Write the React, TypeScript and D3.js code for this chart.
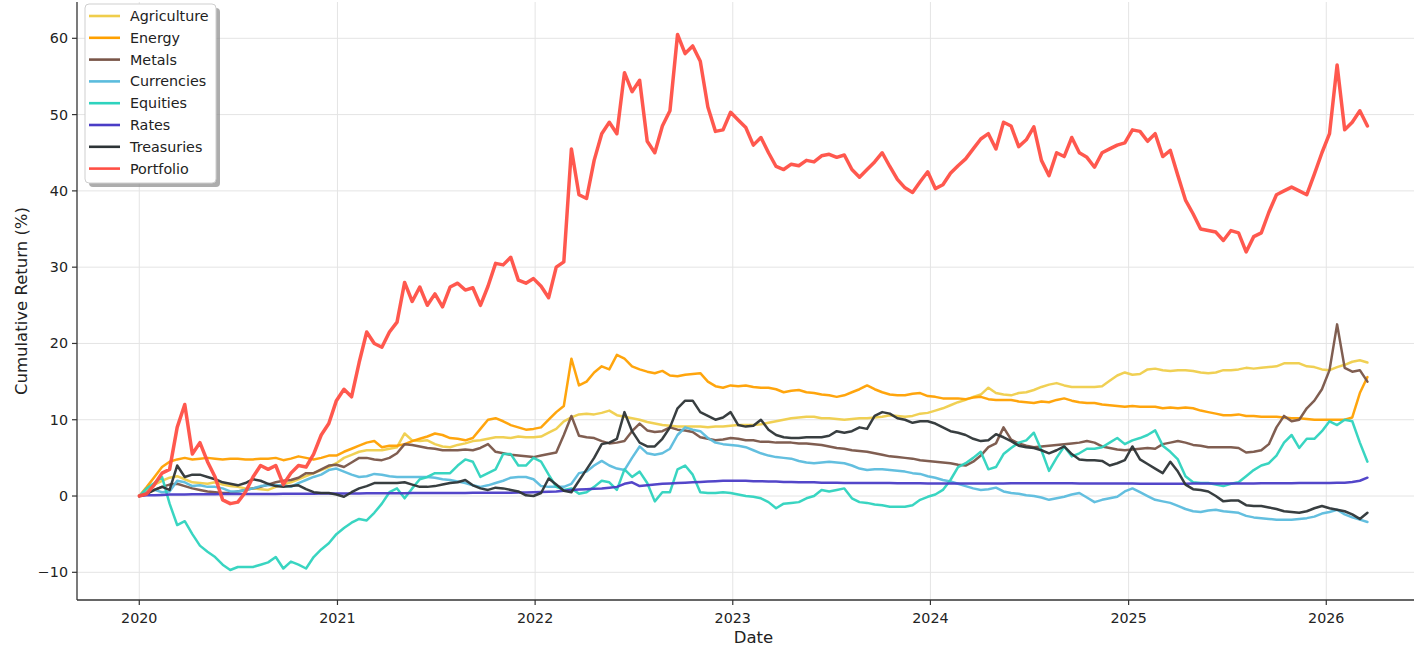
import React from "react";
import * as d3 from "d3";

const START = new Date(2020, 0, 1);
const STEP_DAYS = 14;

const seriesNames = ["Agriculture", "Energy", "Metals", "Currencies", "Equities", "Rates", "Treasuries", "Portfolio"];
const seriesColors = ["#EFCD4B", "#FFA000", "#795548", "#5BBCDD", "#2ED3BE", "#4A3CC6", "#2D3436", "#FF4F44"];

const xTickYears = [2020, 2021, 2022, 2023, 2024, 2025, 2026];
const yTickValues = [-10, 0, 10, 20, 30, 40, 50, 60];

const agriculture = [
  0, 0.8, 1.5, 2.0, 2.4, 2.6, 2.2, 1.8, 1.7, 1.6,
  1.8, 1.5, 1.3, 1.2, 1.0, 1.0, 0.9, 0.8, 1.2, 1.5,
  1.8, 2.2, 2.6, 3.0, 3.4, 3.8, 4.3, 5.0, 5.4, 5.8,
  6.0, 6.0, 6.0, 6.2, 6.4, 8.2, 7.3, 7.2, 7.3, 6.8,
  6.5, 6.4, 6.7, 6.9, 7.2, 7.3, 7.5, 7.7, 7.7, 7.6,
  7.8, 7.7, 7.7, 7.8, 8.3, 8.8, 9.8, 10.3, 10.7, 10.8,
  10.7, 10.9, 11.2, 10.6, 10.4, 10.2, 10.0, 9.7, 9.5, 9.3,
  9.2, 9.1, 9.1, 9.1, 9.1, 9.0, 9.1, 9.1, 9.2, 9.3,
  9.3, 9.3, 9.4, 9.6, 9.8, 10.0, 10.2, 10.3, 10.4, 10.4,
  10.2, 10.2, 10.1, 10.0, 10.1, 10.2, 10.2, 10.3, 10.4, 10.6,
  10.5, 10.4, 10.5, 10.8, 10.9, 11.2, 11.5, 11.9, 12.3, 12.6,
  13.0, 13.3, 14.2, 13.5, 13.3, 13.2, 13.5, 13.6, 13.9, 14.3,
  14.6, 14.8, 14.5, 14.3, 14.3, 14.3, 14.3, 14.4, 15.1, 15.8,
  16.2, 15.9, 16.0, 16.6, 16.7, 16.5, 16.4, 16.5, 16.5, 16.4,
  16.2, 16.1, 16.2, 16.5, 16.5, 16.6, 16.8, 16.7, 16.8, 16.9,
  17.0, 17.4, 17.4, 17.4, 17.0, 16.9, 16.6, 16.5, 16.9, 17.2,
  17.6, 17.8, 17.5,
];

const energy = [
  0, 1.2, 2.5, 3.8, 4.5, 4.8, 5.0, 4.8, 4.9, 5.0,
  4.9, 4.8, 4.9, 4.9, 4.8, 4.8, 4.9, 4.9, 5.0, 4.7,
  4.9, 5.2, 5.0, 4.8, 5.0, 5.3, 5.3, 5.8, 6.2, 6.6,
  7.0, 7.2, 6.4, 6.6, 6.6, 6.8, 7.2, 7.5, 7.8, 8.2,
  8.0, 7.6, 7.5, 7.3, 7.6, 8.8, 10.0, 10.2, 9.8, 9.3,
  9.0, 8.7, 8.8, 9.0, 10.0, 11.0, 11.8, 18.0, 14.5, 15.0,
  16.2, 17.0, 16.6, 18.5, 18.0, 17.0, 16.6, 16.3, 16.1, 16.4,
  15.8, 15.7, 15.9, 16.0, 16.1, 15.0, 14.4, 14.2, 14.5, 14.4,
  14.5, 14.3, 14.2, 14.2, 14.0, 13.6, 13.8, 13.9, 13.6, 13.5,
  13.3, 13.2, 13.0, 13.2, 13.6, 14.0, 14.5, 14.0, 13.6, 13.3,
  13.2, 13.2, 13.4, 13.5, 13.1, 13.0, 12.8, 12.8, 12.8, 12.7,
  12.9, 13.0, 12.7, 12.6, 12.6, 12.6, 12.4, 12.3, 12.2, 12.4,
  12.3, 12.6, 12.8, 12.5, 12.3, 12.2, 12.2, 12.0, 11.9, 11.8,
  11.7, 11.8, 11.7, 11.7, 11.7, 11.5, 11.6, 11.5, 11.6, 11.5,
  11.2, 11.0, 10.8, 10.6, 10.6, 10.7, 10.5, 10.5, 10.4, 10.4,
  10.4, 10.3, 10.2, 10.2, 10.1, 10.0, 10.0, 10.0, 10.0, 10.0,
  10.3, 13.5, 15.6,
];

const metals = [
  0, 0.3, 0.8, 1.2, 1.5, 1.6, 1.3, 1.0, 0.8, 0.6,
  0.5, 0.4, 0.4, 0.6, 0.8, 1.0, 1.2, 1.5, 1.8, 2.0,
  2.1, 2.4, 3.0, 3.0, 3.5, 4.0, 4.1, 3.8, 4.4, 5.0,
  5.0, 4.8, 4.7, 5.0, 5.6, 6.8, 6.7, 6.5, 6.3, 6.2,
  6.0, 6.0, 6.0, 6.1, 6.0, 6.3, 6.8, 5.8, 5.6, 5.4,
  5.3, 5.2, 5.1, 5.3, 5.5, 5.7, 8.0, 10.5, 7.9, 7.7,
  7.6, 7.2, 6.9, 7.0, 7.2, 8.5, 9.5, 8.6, 8.4, 8.5,
  9.0, 8.7, 8.6, 8.4, 7.7, 7.5, 7.3, 7.4, 7.6, 7.5,
  7.3, 7.3, 7.1, 7.1, 7.0, 7.0, 7.0, 6.9, 6.9, 6.8,
  6.7, 6.5, 6.3, 6.2, 6.0, 5.9, 5.8, 5.6, 5.4, 5.2,
  5.1, 5.0, 4.9, 4.7, 4.6, 4.5, 4.4, 4.3, 4.1, 4.0,
  4.5, 5.3, 6.4, 6.9, 9.0, 7.4, 6.9, 6.6, 6.4, 6.5,
  6.6, 6.7, 6.8, 6.9, 7.0, 7.2, 7.0, 6.5, 6.3, 6.1,
  6.0, 6.1, 6.2, 6.3, 6.2, 6.8, 7.0, 7.2, 7.0, 6.7,
  6.6, 6.4, 6.4, 6.4, 6.4, 6.3, 5.7, 5.8, 6.0, 6.8,
  9.0, 10.5, 9.8, 10.0, 11.5, 12.5, 14.0, 16.5, 22.5, 16.8,
  16.3, 16.5, 15.0,
];

const currencies = [
  0, 0.5, 0.8, 0.5, 0.6, 2.0, 1.8, 1.3, 1.4, 1.2,
  1.2, 1.0, 0.6, 0.6, 0.8, 1.0, 1.3, 1.4, 1.4, 1.4,
  1.2, 1.7, 2.1, 2.5, 2.8, 3.4, 3.6, 3.2, 2.8, 2.5,
  2.6, 2.9, 2.8, 2.6, 2.5, 2.5, 2.5, 2.5, 2.5, 2.4,
  2.2, 2.1, 1.9, 1.7, 1.4, 1.2, 1.4, 1.7, 2.0, 2.4,
  2.5, 2.5, 2.2, 1.3, 1.2, 1.2, 1.2, 1.6, 3.0, 3.2,
  4.0, 4.6, 4.0, 3.6, 3.4, 5.0, 6.5, 5.6, 5.4, 5.6,
  6.2, 8.0, 9.0, 8.7, 8.5, 7.6, 7.0, 6.8, 6.7, 6.6,
  6.4, 6.0, 5.6, 5.3, 5.1, 5.0, 4.9, 4.6, 4.4, 4.3,
  4.4, 4.5, 4.4, 4.3, 4.0, 3.6, 3.4, 3.5, 3.5, 3.4,
  3.3, 3.2, 3.0, 2.9, 2.6, 2.4, 2.1, 1.9, 1.6, 1.3,
  1.0, 0.8, 0.9, 1.1, 0.6, 0.4, 0.3, 0.1, 0.0, -0.2,
  -0.5, -0.3, -0.1, 0.2, 0.4, -0.2, -0.8, -0.5, -0.3, -0.1,
  0.6, 1.0, 0.5, 0.0, -0.5, -0.7, -0.9, -1.3, -1.7, -2.0,
  -2.1, -1.9, -1.8, -2.0, -2.1, -2.2, -2.6, -2.8, -2.9, -3.0,
  -3.1, -3.1, -3.1, -3.0, -2.9, -2.7, -2.3, -2.1, -1.8, -2.4,
  -2.8, -3.1, -3.4,
];

const equities = [
  0, 1.0, 1.7, 2.5, -1.0, -3.8, -3.3, -5.0, -6.5, -7.3,
  -8.0, -9.0, -9.7, -9.3, -9.3, -9.3, -9.0, -8.7, -8.0, -9.5,
  -8.6, -9.0, -9.5, -8.0, -7.0, -6.2, -5.0, -4.2, -3.5, -3.0,
  -3.2, -2.2, -1.0, 0.5, 1.0, -0.3, 1.0, 2.2, 2.5, 3.0,
  3.0, 3.0, 4.0, 4.8, 4.5, 2.5, 3.0, 3.5, 5.5, 5.5,
  4.0, 4.0, 5.0, 4.5, 2.8, 1.2, 0.8, 1.0, 0.3, 0.5,
  1.2, 2.0, 1.8, 0.8, 3.5, 2.5, 3.2, 1.7, -0.7, 0.5,
  0.5, 3.5, 4.0, 2.8, 0.5, 0.4, 0.4, 0.5, 0.4, 0.2,
  0.0, -0.1, -0.3, -0.8, -1.6, -1.0, -0.9, -0.8, -0.3, 0.0,
  0.8, 0.6, 0.8, 1.0, -0.3, -0.8, -0.9, -1.1, -1.2, -1.4,
  -1.4, -1.4, -1.2, -0.5, -0.1, 0.2, 0.8, 2.1, 3.8, 4.3,
  5.0, 5.8, 3.5, 3.8, 5.5, 6.3, 7.0, 7.3, 8.3, 6.0,
  3.3, 5.0, 6.5, 5.2, 5.6, 6.2, 6.2, 6.4, 7.0, 7.6,
  6.8, 7.3, 7.6, 8.0, 8.6, 6.6, 5.8, 4.8, 2.6, 1.8,
  1.7, 1.7, 1.5, 1.3, 1.6, 1.8, 2.6, 3.4, 4.0, 4.3,
  5.3, 7.0, 8.0, 6.3, 7.5, 7.5, 8.5, 9.8, 9.3, 10.0,
  9.8, 7.0, 4.5,
];

const rates = [
  0, 0.1, 0.1, 0.15, 0.2, 0.2, 0.2, 0.22, 0.22, 0.24,
  0.24, 0.25, 0.25, 0.26, 0.26, 0.27, 0.27, 0.28, 0.28, 0.29,
  0.3, 0.3, 0.31, 0.31, 0.32, 0.32, 0.33, 0.33, 0.34, 0.34,
  0.35, 0.35, 0.36, 0.36, 0.37, 0.37, 0.38, 0.38, 0.39, 0.39,
  0.4, 0.4, 0.41, 0.41, 0.42, 0.42, 0.43, 0.43, 0.44, 0.44,
  0.45, 0.47, 0.5, 0.52, 0.55, 0.6, 0.7, 0.8, 0.85, 0.9,
  0.95, 1.0, 1.1, 1.2, 1.6, 1.8, 1.3, 1.4, 1.5, 1.6,
  1.65, 1.7, 1.75, 1.8, 1.85, 1.9, 1.95, 2.0, 2.0, 2.0,
  2.0, 1.95, 1.95, 1.9, 1.9, 1.85, 1.85, 1.8, 1.8, 1.8,
  1.75, 1.75, 1.75, 1.7, 1.7, 1.7, 1.7, 1.7, 1.7, 1.7,
  1.68, 1.68, 1.66, 1.66, 1.65, 1.65, 1.65, 1.64, 1.64, 1.64,
  1.64, 1.64, 1.65, 1.65, 1.65, 1.66, 1.66, 1.66, 1.66, 1.66,
  1.66, 1.66, 1.66, 1.66, 1.65, 1.65, 1.65, 1.65, 1.64, 1.64,
  1.63, 1.63, 1.62, 1.62, 1.62, 1.62, 1.62, 1.62, 1.62, 1.63,
  1.63, 1.63, 1.64, 1.64, 1.64, 1.65, 1.65, 1.65, 1.66, 1.67,
  1.68, 1.68, 1.69, 1.7, 1.7, 1.7, 1.71, 1.72, 1.73, 1.75,
  1.85, 2.0, 2.4,
];

const treasuries = [
  0, 0.3, 0.8, 1.2, 0.8, 4.0, 2.5, 2.8, 2.8, 2.5,
  2.2, 1.8, 1.6, 1.4, 1.7, 2.2, 2.0, 1.6, 1.3, 1.2,
  1.3, 1.4, 0.9, 0.5, 0.4, 0.4, 0.2, -0.1, 0.5, 1.0,
  1.3, 1.7, 1.7, 1.7, 1.7, 1.8, 1.5, 1.2, 1.2, 1.3,
  1.5, 1.7, 1.8, 2.1, 1.4, 1.0, 0.8, 1.1, 1.0, 0.8,
  0.6, 0.1, 0.0, 0.4, 2.3, 1.5, 0.7, 0.5, 2.0, 3.5,
  5.0, 6.8, 7.0, 7.5, 11.0, 8.5, 7.0, 6.5, 6.5, 7.5,
  9.0, 11.5, 12.5, 12.5, 11.0, 10.5, 10.0, 10.3, 11.0, 9.3,
  9.1, 9.2, 10.0, 8.7, 8.0, 7.7, 7.6, 7.6, 7.7, 7.7,
  7.7, 7.9, 8.5, 8.3, 8.5, 9.0, 8.8, 10.5, 11.0, 10.8,
  10.2, 10.0, 9.6, 9.8, 9.8, 9.5, 9.0, 8.5, 8.3, 8.0,
  7.5, 7.2, 7.3, 8.1, 7.7, 7.2, 6.6, 6.4, 6.3, 6.0,
  5.6, 6.0, 6.5, 5.5, 4.8, 4.7, 4.7, 4.6, 4.0, 4.3,
  4.7, 6.5, 4.8, 4.2, 3.6, 3.0, 4.5, 3.2, 1.5, 0.9,
  0.8, 0.6, 0.0, -0.7, -0.6, -0.6, -1.2, -1.3, -1.3, -1.5,
  -1.7, -2.0, -2.1, -2.2, -2.0, -1.6, -1.3, -1.6, -1.8, -2.0,
  -2.4, -3.0, -2.2,
];

const portfolio = [
  0, 0.3, 1.5, 3.0, 3.5, 9.0, 12.0, 5.5, 7.0, 4.5,
  2.5, -0.5, -1.0, -0.8, 0.5, 2.5, 4.0, 3.5, 4.0, 1.5,
  3.0, 4.0, 3.8, 5.5, 8.0, 9.5, 12.5, 14.0, 13.0, 17.5,
  21.5, 20.0, 19.5, 21.5, 22.8, 28.0, 25.5, 27.4, 25.0, 26.5,
  24.8, 27.4, 27.9, 27.0, 27.3, 25.0, 27.5, 30.5, 30.3, 31.3,
  28.3, 27.9, 28.5, 27.5, 26.0, 30.0, 30.7, 45.5, 39.5, 39.0,
  44.0, 47.5, 49.0, 47.5, 55.5, 53.0, 54.5, 46.5, 45.0, 48.5,
  50.5, 60.5, 58.0, 59.0, 57.0, 51.0, 47.8, 48.0, 50.3, 49.3,
  48.3, 46.0, 47.0, 45.0, 43.2, 42.8, 43.5, 43.3, 44.0, 43.8,
  44.6, 44.8, 44.4, 44.7, 42.8, 41.8, 42.8, 43.8, 45.0, 43.2,
  41.5, 40.4, 39.8, 41.2, 42.5, 40.3, 40.8, 42.3, 43.3, 44.2,
  45.5, 46.8, 47.5, 45.5, 49.0, 48.5, 45.8, 46.7, 48.4, 44.0,
  42.0, 45.0, 44.5, 47.0, 45.0, 44.4, 43.1, 45.0, 45.5, 46.0,
  46.3, 48.0, 47.8, 46.5, 47.5, 44.5, 45.3, 42.0, 38.8, 37.0,
  35.0, 34.8, 34.6, 33.5, 34.8, 34.5, 32.0, 34.0, 34.5, 37.2,
  39.5, 40.0, 40.5, 40.0, 39.5, 42.2, 45.0, 47.5, 56.5, 48.0,
  49.0, 50.5, 48.5,
];

const seriesValues = [agriculture, energy, metals, currencies, equities, rates, treasuries, portfolio];

const W = 1414;
const H = 647;
const FONT = "'DejaVu Sans', sans-serif";

export default function App() {
  const dates = d3.range(portfolio.length).map((i) => d3.timeDay.offset(START, STEP_DAYS * i));

  const x = d3
    .scaleTime()
    .domain([d3.timeDay.offset(START, -114.5), d3.timeDay.offset(START, 2354.5)])
    .range([77, 1414]);
  const y = d3.scaleLinear().domain([-13.63, 64.76]).range([600, 2]);

  const line = d3
    .line<number>()
    .x((_, i) => x(dates[i]))
    .y((v) => y(v));

  const left = 77;
  const right = 1414;
  const top = 2;
  const bottom = 600;

  const legendX = 85;
  const legendY = 4;
  const legendW = 131;
  const legendH = 179;
  const rowH = 21.8;

  return (
    <svg width={W} height={H} style={{ position: "absolute", left: 0, top: 0, display: "block", background: "#fff" }} fontFamily={FONT}>
      {/* grid */}
      <g>
        {xTickYears.map((yr) => {
          const xx = x(new Date(yr, 0, 1));
          return <line key={"gx" + yr} x1={xx} x2={xx} y1={top} y2={bottom} stroke="#e4e4e4" strokeWidth={1} />;
        })}
        {yTickValues.map((v) => (
          <line key={"gy" + v} x1={left} x2={right} y1={y(v)} y2={y(v)} stroke="#e4e4e4" strokeWidth={1} />
        ))}
      </g>

      {/* series */}
      <g fill="none" strokeLinejoin="round" strokeLinecap="round">
        {seriesValues.map((vals, k) => (
          <path
            key={seriesNames[k]}
            d={line(vals) || ""}
            stroke={seriesColors[k]}
            strokeWidth={seriesNames[k] === "Portfolio" ? 3.5 : 2.5}
            opacity={0.95}
          />
        ))}
      </g>

      {/* spines */}
      <line x1={left} x2={left} y1={top} y2={bottom} stroke="#333" strokeWidth={1.3} />
      <line x1={left} x2={right} y1={bottom} y2={bottom} stroke="#333" strokeWidth={1.3} />

      {/* x ticks */}
      <g>
        {xTickYears.map((yr) => {
          const xx = x(new Date(yr, 0, 1));
          return (
            <g key={"xt" + yr}>
              <line x1={xx} x2={xx} y1={bottom} y2={bottom + 5} stroke="#333" strokeWidth={1.2} />
              <text x={xx} y={bottom + 23} textAnchor="middle" fontSize={14.3} fill="#222">
                {String(yr)}
              </text>
            </g>
          );
        })}
      </g>

      {/* y ticks */}
      <g>
        {yTickValues.map((v) => {
          const yy = y(v);
          return (
            <g key={"yt" + v}>
              <line x1={left - 5} x2={left} y1={yy} y2={yy} stroke="#333" strokeWidth={1.2} />
              <text x={left - 9} y={yy + 5} textAnchor="end" fontSize={14.3} fill="#222">
                {v < 0 ? "\u2212" + Math.abs(v) : String(v)}
              </text>
            </g>
          );
        })}
      </g>

      {/* axis labels */}
      <text x={(left + right) / 2 + 8} y={643} textAnchor="middle" fontSize={16.5} fill="#222">
        Date
      </text>
      <text
        transform={`translate(27, ${(top + bottom) / 2}) rotate(-90)`}
        textAnchor="middle"
        fontSize={16.5}
        fill="#222"
      >
        Cumulative Return (%)
      </text>

      {/* legend */}
      <g>
        <rect x={legendX + 4} y={legendY + 4} width={legendW} height={legendH} rx={4} fill="#8a8a8a" opacity={0.7} />
        <rect x={legendX} y={legendY} width={legendW} height={legendH} rx={4} fill="#fff" stroke="#cfcfcf" strokeWidth={1} />
        {seriesNames.map((name, k) => {
          const cy = legendY + 12 + rowH * k;
          return (
            <g key={"lg" + name}>
              <line x1={legendX + 4} x2={legendX + 35} y1={cy} y2={cy} stroke={seriesColors[k]} strokeWidth={2.6} />
              <text x={legendX + 45} y={cy + 5} fontSize={14.3} fill="#222">
                {name}
              </text>
            </g>
          );
        })}
      </g>
    </svg>
  );
}
